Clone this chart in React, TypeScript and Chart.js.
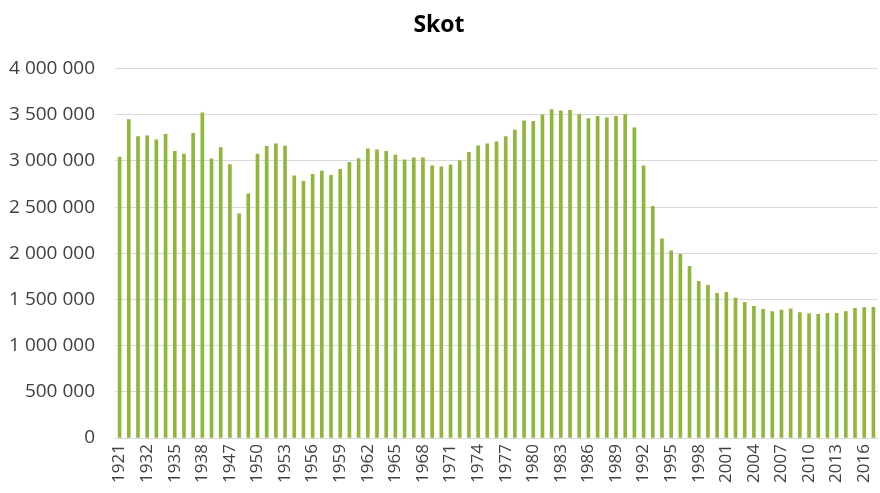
import React, { useEffect, useRef } from "react";
import { Chart, registerables } from "chart.js";

Chart.register(...registerables);

const years: string[] = [
  "1921", "1930", "1931", "1932", "1933", "1934", "1935", "1936", "1937", "1938", "1939", "1946",
  "1947", "1948", "1949", "1950", "1951", "1952", "1953", "1954", "1955", "1956", "1957", "1958",
  "1959", "1960", "1961", "1962", "1963", "1964", "1965", "1966", "1967", "1968", "1969", "1970",
  "1971", "1972", "1973", "1974", "1975", "1976", "1977", "1978", "1979", "1980", "1981", "1982",
  "1983", "1984", "1985", "1986", "1987", "1988", "1989", "1990", "1991", "1992", "1993", "1994",
  "1995", "1996", "1997", "1998", "1999", "2000", "2001", "2002", "2003", "2004", "2005", "2006",
  "2007", "2008", "2009", "2010", "2011", "2012", "2013", "2014", "2015", "2016", "2017",
];

const cattle: number[] = [
  3041000, 3449000, 3265000, 3273000, 3229000, 3287000, 3103000, 3074000, 3298000, 3521000, 3024000, 3146000,
  2962000, 2428000, 2645000, 3074000, 3157000, 3186000, 3160000, 2840000, 2778000, 2854000, 2890000, 2843000,
  2908000, 2984000, 3027000, 3132000, 3121000, 3103000, 3063000, 3013000, 3035000, 3035000, 2948000, 2937000,
  2959000, 3005000, 3092000, 3164000, 3186000, 3208000, 3265000, 3334000, 3435000, 3428000, 3500000, 3557000,
  3543000, 3547000, 3503000, 3460000, 3482000, 3467000, 3482000, 3503000, 3359000, 2948000, 2508000, 2158000,
  2028000, 1988000, 1858000, 1696000, 1653000, 1566000, 1577000, 1515000, 1469000, 1425000, 1393000, 1368000,
  1386000, 1400000, 1357000, 1346000, 1339000, 1350000, 1350000, 1368000, 1404000, 1411000, 1415000,
];

const titleText = "Skot";
const yMax = 4000000;
const yStep = 500000;

const fmt = (v: number) => String(v).replace(/\B(?=(\d{3})+(?!\d))/g, " ");

export default function App() {
  const ref = useRef<HTMLCanvasElement | null>(null);
  useEffect(() => {
    if (!ref.current) return;
    const chart = new Chart(ref.current, {
      type: "bar",
      data: {
        labels: years,
        datasets: [
          {
            label: titleText,
            data: cattle,
            backgroundColor: "#8fb73a",
            barThickness: 3,
          },
        ],
      },
      options: {
        responsive: false,
        animation: false,
        layout: { padding: { left: 0, right: 2, top: 0, bottom: 0 } },
        plugins: {
          legend: { display: false },
          tooltip: { enabled: false },
          title: {
            display: true,
            text: titleText,
            color: "#000",
            font: { family: "'Open Sans'", size: 23, weight: "bold" },
            padding: { top: 12, bottom: 29 },
          },
        },
        scales: {
          x: {
            grid: { display: false, drawTicks: false },
            border: { display: false },
            ticks: {
              autoSkip: false,
              maxRotation: 90,
              minRotation: 90,
              padding: 6,
              color: "#404040",
              font: { family: "'Open Sans'", size: 17 },
              callback: (_v: any, i: number) => (i % 3 === 0 ? years[i] : ""),
            },
            afterFit: (s: any) => {
              s.height = 55;
              s.paddingLeft = 0;
              s.paddingRight = 0;
            },
          },
          y: {
            min: 0,
            max: yMax,
            grid: { color: "#d9d9d9", lineWidth: 1, drawTicks: false },
            border: { display: false },
            ticks: {
              stepSize: yStep,
              padding: 20,
              color: "#404040",
              font: { family: "'Open Sans'", size: 19 },
              callback: (v: any) => fmt(Number(v)),
            },
            afterFit: (s: any) => {
              s.width = 115;
            },
          },
        },
      },
    });
    return () => chart.destroy();
  }, []);
  return (
    <div style={{ position: "absolute", left: 0, top: 0, width: 880, height: 493, background: "#fff" }}>
      <canvas ref={ref} width={880} height={493} />
    </div>
  );
}
